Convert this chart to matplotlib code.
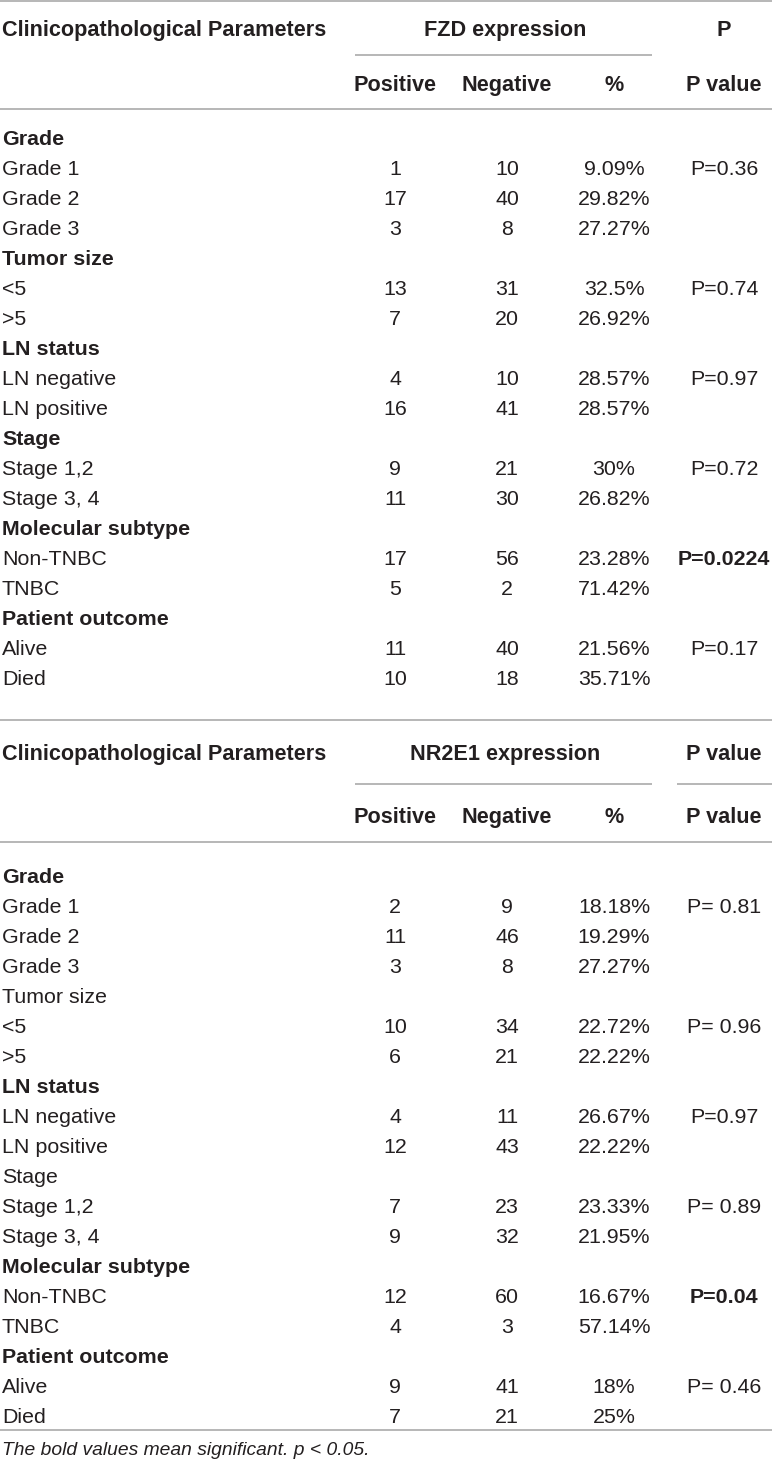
import matplotlib
matplotlib.use("Agg")
from matplotlib import pyplot as plt

plt.rcParams["font.family"] = ["Liberation Sans", "DejaVu Sans"]

# --- data -------------------------------------------------------------
groups = ["Grade", "Tumor size", "LN status", "Stage",
          "Molecular subtype", "Patient outcome"]
sub_labels = [
    ["Grade 1", "Grade 2", "Grade 3"],
    ["<5", ">5"],
    ["LN negative", "LN positive"],
    ["Stage 1,2", "Stage 3, 4"],
    ["Non-TNBC", "TNBC"],
    ["Alive", "Died"],
]

fzd_pos = [1, 17, 3, 13, 7, 4, 16, 9, 11, 17, 5, 11, 10]
fzd_neg = [10, 40, 8, 31, 20, 10, 41, 21, 30, 56, 2, 40, 18]
fzd_pct = ["9.09%", "29.82%", "27.27%", "32.5%", "26.92%", "28.57%", "28.57%",
           "30%", "26.82%", "23.28%", "71.42%", "21.56%", "35.71%"]
fzd_p = ["P=0.36", "P=0.74", "P=0.97", "P=0.72", "P=0.0224", "P=0.17"]
fzd_sig = [False, False, False, False, True, False]
fzd_group_bold = [True, True, True, True, True, True]

nr_pos = [2, 11, 3, 10, 6, 4, 12, 7, 9, 12, 4, 9, 7]
nr_neg = [9, 46, 8, 34, 21, 11, 43, 23, 32, 60, 3, 41, 21]
nr_pct = ["18.18%", "19.29%", "27.27%", "22.72%", "22.22%", "26.67%", "22.22%",
          "23.33%", "21.95%", "16.67%", "57.14%", "18%", "25%"]
nr_p = ["P= 0.81", "P= 0.96", "P=0.97", "P= 0.89", "P=0.04", "P= 0.46"]
nr_sig = [False, False, False, False, True, False]
nr_group_bold = [True, False, True, False, True, True]

footnote = "The bold values mean significant. p < 0.05."

# --- layout (pixels) --------------------------------------------------
W, H = 772, 1473
FS = 15.4
FS_HEAD = 15.6
TXT = "#231f20"
LINE = "#a3a3a3"
LW = 1.1
X_LABEL = 2
X_POS, X_NEG, X_PCT, X_P = 395, 507, 614, 724
X_SPAN = (355, 652)
X_PSPAN = (677, 772)
ROW_H = 30
BASE = 7.6  # centre -> baseline offset

fig = plt.figure(figsize=(W / 100, H / 100), dpi=100)
ax = fig.add_axes([0, 0, 1, 1])
ax.set_xlim(0, W)
ax.set_ylim(H, 0)
ax.axis("off")


def txt(x, y, s, ha="center", bold=False, italic=False, size=FS):
    ax.text(x, y + BASE, s, ha=ha, va="baseline", fontsize=size, color=TXT,
            fontweight="bold" if bold else "normal",
            fontstyle="italic" if italic else "normal")


def hline(y, x0=0, x1=W):
    ax.plot([x0, x1], [y, y], color=LINE, lw=LW, solid_capstyle="butt")


def draw_table(ys, title, p_head, p_line, pos, neg, pct, pvals, sig,
               group_bold, y_rows):
    y_top, yh1, yl, yh2, ybot = ys
    hline(y_top)
    txt(X_LABEL, yh1, "Clinicopathological Parameters", ha="left", bold=True,
        size=FS_HEAD)
    txt((X_POS + X_PCT) / 2 + 1, yh1, title, bold=True, size=FS_HEAD)
    txt(X_P, yh1, p_head, bold=True, size=FS_HEAD)
    hline(yl, *X_SPAN)
    if p_line:
        hline(yl, *X_PSPAN)
    for x, s in zip([X_POS, X_NEG, X_PCT, X_P],
                    ["Positive", "Negative", "%", "P value"]):
        txt(x, yh2, s, bold=True, size=FS_HEAD)
    hline(ybot)

    y = y_rows
    k = 0
    for g, name in enumerate(groups):
        txt(X_LABEL, y, name, ha="left", bold=group_bold[g])
        y += ROW_H
        for j, lab in enumerate(sub_labels[g]):
            txt(X_LABEL, y, lab, ha="left")
            txt(X_POS, y, str(pos[k]))
            txt(X_NEG, y, str(neg[k]))
            txt(X_PCT, y, pct[k])
            if j == 0:
                txt(X_P, y, pvals[g], bold=sig[g])
            y += ROW_H
            k += 1


draw_table((1, 28, 55, 83, 109), "FZD expression", "P", False,
           fzd_pos, fzd_neg, fzd_pct, fzd_p, fzd_sig, fzd_group_bold, 137)
draw_table((720, 752, 784, 815, 842), "NR2E1 expression", "P value", True,
           nr_pos, nr_neg, nr_pct, nr_p, nr_sig, nr_group_bold, 875)

hline(1430)
txt(X_LABEL, 1447, footnote, ha="left", italic=True, size=13.9)

fig.savefig("out.png", dpi=100, facecolor="white")
